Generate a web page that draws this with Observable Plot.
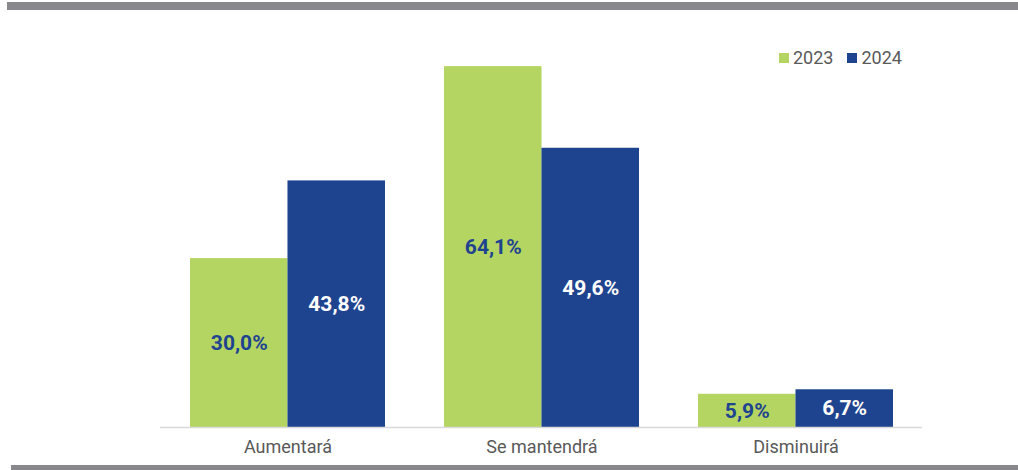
<!DOCTYPE html>
<html>
<head>
<meta charset="utf-8">
<script src="https://cdn.jsdelivr.net/npm/d3@7"></script>
<script src="https://cdn.jsdelivr.net/npm/@observablehq/plot@0.6"></script>
<style>
  html, body { margin: 0; padding: 0; background: #fff; }
  #wrap { position: relative; width: 1018px; height: 470px; overflow: hidden; font-family: Roboto, "Open Sans", sans-serif; }
  .band { position: absolute; background: #88888c; }
  #legend { position: absolute; top: 47px; left: 779px; display: flex; align-items: center; font-size: 18px; color: #595959; }
  #legend .sw { display: inline-block; width: 10px; height: 10px; margin-right: 4px; }
  #legend .item { display: flex; align-items: center; margin-right: 14px; }
  #chart { position: absolute; left: 0; top: 0; }
</style>
</head>
<body>
<div id="wrap">
  <div class="band" style="left:7px;top:2px;width:1011px;height:8px;"></div>
  <div class="band" style="left:11px;top:465px;width:1007px;height:5px;"></div>
  <div id="chart"></div>
  <div id="legend"></div>
</div>
<script>
const categories = ["Aumentará", "Se mantendrá", "Disminuirá"];
const years = ["2023", "2024"];
const values2023 = [30.0, 64.1, 5.9];
const values2024 = [43.8, 49.6, 6.7];
const colors = {"2023": "#b5d562", "2024": "#1f448f"};
const labelColors = {"2023": "#1f448f", "2024": "#ffffff"};

const fmt = v => v.toFixed(1).replace(".", ",") + "%";
const rows = [];
categories.forEach((c, i) => {
  rows.push({cat: c, year: "2023", v: values2023[i]});
  rows.push({cat: c, year: "2024", v: values2024[i]});
});
const d23 = rows.filter(d => d.year === "2023");
const d24 = rows.filter(d => d.year === "2024");

const W = 1018, H = 470;
const mL = 160, mR = 96;
const pIn = 0.234, pOut = 0.114;
const step = (W - mL - mR) / (categories.length - pIn + 2 * pOut);
const bw = step * (1 - pIn);
const half = bw / 2;

const chart = Plot.plot({
  width: W,
  height: H,
  marginLeft: mL,
  marginRight: mR,
  marginTop: 20,
  marginBottom: 43,
  style: {fontFamily: "Roboto, sans-serif", background: "transparent"},
  x: {type: "band", domain: categories, paddingInner: pIn, paddingOuter: pOut, label: null},
  y: {domain: [0, 407 / 5.63], axis: null},
  marks: [
    Plot.barY(d23, {x: "cat", y: "v", fill: colors["2023"], insetLeft: 0, insetRight: half}),
    Plot.barY(d24, {x: "cat", y: "v", fill: colors["2024"], insetLeft: half, insetRight: 0}),
    Plot.ruleY([0], {stroke: "#d9d9d9", strokeWidth: 1.5}),
    Plot.text(d23, {x: "cat", y: d => d.v / 2, text: d => fmt(d.v), dx: -half / 2, fill: labelColors["2023"], fontSize: 21, fontWeight: "bold"}),
    Plot.text(d24, {x: "cat", y: d => d.v / 2, text: d => fmt(d.v), dx: half / 2, fill: labelColors["2024"], fontSize: 21, fontWeight: "bold"}),
    Plot.axisX({tickSize: 0, tickPadding: 13, fontSize: 18, color: "#595959", label: null})
  ]
});
document.getElementById("chart").appendChild(chart);

const legend = document.getElementById("legend");
years.forEach(y => {
  const it = document.createElement("div");
  it.className = "item";
  const sw = document.createElement("span");
  sw.className = "sw";
  sw.style.background = colors[y];
  const t = document.createElement("span");
  t.textContent = y;
  it.appendChild(sw); it.appendChild(t);
  legend.appendChild(it);
});
</script>
</body>
</html>
